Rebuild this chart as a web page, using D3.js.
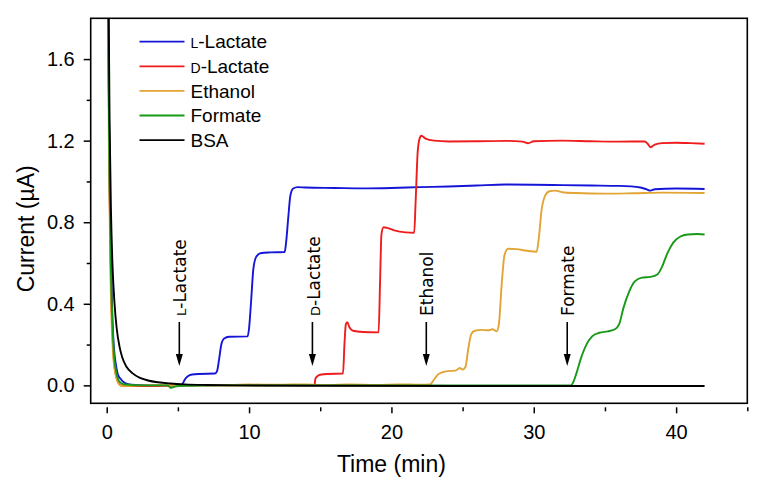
<!DOCTYPE html>
<html>
<head>
<meta charset="utf-8">
<script src="https://cdn.jsdelivr.net/npm/d3@7"></script>
<style>
  html, body { margin: 0; padding: 0; background: #fff; }
  svg { display: block; }
</style>
</head>
<body>
<svg id="chart" width="762" height="489"></svg>
<script>
// ---------- data: [time (min), current (µA)] ----------
const lLactate = [[0.02,3.0],[0.1,1.9],[0.2,1.05],[0.3,0.6],[0.4,0.33],[0.5,0.19],[0.65,0.1],[0.8,0.05],[1.0,0.03],[1.2,0.015],[1.5,0.006],[2,0.002],[3,0.0],[5.2,0.0],
  [5.35,0.01],[5.5,0.03],[5.7,0.045],[6.0,0.053],[6.5,0.056],[7.6,0.058],[7.75,0.07],[7.9,0.13],[8.05,0.2],[8.25,0.23],[8.6,0.238],[9.9,0.24],
  [10.0,0.28],[10.15,0.42],[10.3,0.57],[10.5,0.63],[10.8,0.648],[11.5,0.652],[12.5,0.654],[12.6,0.7],[12.75,0.82],[12.9,0.93],[13.1,0.965],[13.4,0.972],
  [14,0.97],[16,0.968],[18,0.966],[20,0.968],[22,0.972],[24,0.975],[26,0.98],[28,0.985],[30,0.984],[32,0.982],[34,0.98],[36,0.978],[37.5,0.97],[37.9,0.962],[38.2,0.955],[38.5,0.962],[40,0.965],[42,0.963]];
const dLactate = [[0.02,3.0],[0.1,1.85],[0.2,0.95],[0.3,0.5],[0.4,0.26],[0.5,0.13],[0.65,0.05],[0.8,0.015],[1.0,0.0],[1.3,-0.004],[2,-0.004],[4,-0.002],[6,0.0],[14.6,0.0],
  [14.65,0.03],[14.8,0.045],[15.0,0.052],[15.5,0.056],[16.6,0.058],[16.7,0.2],[16.8,0.3],[16.9,0.31],[17.05,0.285],[17.3,0.268],[18,0.262],[19.1,0.26],
  [19.2,0.5],[19.3,0.74],[19.45,0.775],[19.7,0.772],[20.2,0.76],[21,0.75],[21.6,0.748],[21.7,0.9],[21.85,1.15],[22.0,1.215],[22.1,1.224],[22.4,1.21],[23,1.2],
  [24,1.196],[26,1.197],[28,1.199],[29.2,1.195],[29.6,1.187],[30,1.197],[32,1.2],[34,1.197],[36,1.195],[37.8,1.196],[38.0,1.185],[38.2,1.168],[38.5,1.18],[39,1.188],[40,1.19],[41,1.188],[42,1.185]];
const ethanol = [[0.02,3.0],[0.08,2.0],[0.15,1.2],[0.25,0.6],[0.35,0.3],[0.45,0.15],[0.6,0.06],[0.75,0.02],[0.9,0.003],[1.1,-0.003],[1.5,-0.003],[2.5,0.0],
  [5,0.002],[8,0.0],[10,0.004],[12,0.003],[14,0.005],[15,0.001],[17,0.004],[19,0.002],[20.5,0.005],[22,0.003],[22.7,0.004],
  [23.0,0.03],[23.3,0.055],[23.6,0.065],[24.0,0.07],[24.5,0.072],[24.8,0.085],[25.0,0.078],[25.2,0.09],[25.4,0.18],[25.6,0.25],[25.85,0.268],[26.3,0.272],[26.8,0.27],[27.1,0.275],[27.4,0.265],
  [27.55,0.3],[27.75,0.5],[27.95,0.64],[28.2,0.67],[28.8,0.668],[29.5,0.66],[30.2,0.655],[30.35,0.72],[30.55,0.86],[30.8,0.93],[31.1,0.952],[31.5,0.955],
  [32,0.947],[33,0.943],[35,0.94],[37,0.942],[39,0.945],[41,0.944],[42,0.943]];
const formate = [[0.02,3.0],[0.1,1.8],[0.2,1.0],[0.3,0.55],[0.4,0.3],[0.5,0.16],[0.65,0.07],[0.8,0.03],[1.0,0.012],[1.3,0.004],[2,0.001],[3,0.0],[4.3,0.0],[4.5,-0.012],[4.7,-0.008],[5,-0.003],[6,-0.002],[8,0.0],[32.6,0.0],
  [32.8,0.02],[33.0,0.06],[33.3,0.13],[33.7,0.2],[34.1,0.24],[34.6,0.258],[35.2,0.265],[35.7,0.275],[36.0,0.3],[36.3,0.38],[36.7,0.46],[37.1,0.51],[37.6,0.528],[38.2,0.532],
  [38.7,0.545],[39.0,0.58],[39.4,0.65],[39.8,0.7],[40.3,0.73],[40.8,0.74],[41.5,0.742],[42,0.74]];
const bsa = [[0.05,3.0],[0.12,2.0],[0.2,1.3],[0.3,0.85],[0.4,0.6],[0.55,0.4],[0.7,0.28],[0.9,0.19],[1.1,0.135],[1.4,0.09],[1.8,0.06],[2.3,0.038],[2.9,0.024],[3.6,0.015],[4.5,0.009],[5.5,0.005],[7,0.002],[9,0.0],[15,-0.002],[25,-0.003],[35,-0.003],[42,-0.003]];

const seriesNames = ["L-Lactate", "D-Lactate", "Ethanol", "Formate", "BSA"];
const seriesSmallCap = ["L", "D", "", "", ""];
const seriesData = [lLactate, dLactate, ethanol, formate, bsa];
const seriesColors = ["#1515d8", "#ee1c1c", "#e2a535", "#179a17", "#000000"];

// annotation arrows: injection times
const injNames = ["L-Lactate", "D-Lactate", "Ethanol", "Formate"];
const injSmallCap = ["L", "D", "", ""];
const injTimes = [5.1, 14.45, 22.45, 32.35];

const xMajorTicks = [0, 10, 20, 30, 40];
const xMinorTicks = [5, 15, 25, 35, 45];
const yMajorTicks = [0.0, 0.4, 0.8, 1.2, 1.6];
const yMinorTicks = [0.2, 0.6, 1.0, 1.4];

// ---------- layout ----------
const svg = d3.select("#chart");
const L = 90.7, R = 747.3, T = 18.3, B = 403.3;
const x = d3.scaleLinear().domain([-1.125, 45]).range([L, R]);
const y = d3.scaleLinear().domain([-0.088, 1.8]).range([B, T]);

svg.append("defs").append("clipPath").attr("id", "clip")
  .append("rect").attr("x", L).attr("y", T).attr("width", R - L).attr("height", B - T);

// lines
const line = d3.line().x(d => x(d[0])).y(d => y(d[1])).curve(d3.curveMonotoneX);
const plot = svg.append("g").attr("clip-path", "url(#clip)");
seriesData.forEach((data, i) => {
  plot.append("path").datum(data)
    .attr("fill", "none")
    .attr("stroke", seriesColors[i])
    .attr("stroke-width", 1.9)
    .attr("stroke-linejoin", "round")
    .attr("d", line);
});

// frame
svg.append("rect").attr("x", L).attr("y", T).attr("width", R - L).attr("height", B - T)
  .attr("fill", "none").attr("stroke", "#000").attr("stroke-width", 1.6);

// y axis
const yAxis = svg.append("g").attr("transform", `translate(${L},0)`)
  .call(d3.axisLeft(y).tickValues(yMajorTicks).tickFormat(d3.format(".1f")).tickSize(7).tickPadding(9));
yAxis.select(".domain").remove();
svg.append("g").attr("transform", `translate(${L},0)`)
  .call(d3.axisLeft(y).tickValues(yMinorTicks).tickFormat("").tickSize(4))
  .select(".domain").remove();

// x axis (offset below frame)
const xAxisY = B + 4;
const xAxis = svg.append("g").attr("transform", `translate(0,${xAxisY})`)
  .call(d3.axisBottom(x).tickValues(xMajorTicks).tickFormat(d3.format("d")).tickSize(6).tickPadding(12));
xAxis.select(".domain").remove();
svg.append("g").attr("transform", `translate(0,${xAxisY})`)
  .call(d3.axisBottom(x).tickValues(xMinorTicks).tickFormat("").tickSize(4))
  .select(".domain").remove();

svg.selectAll(".tick line").attr("stroke", "#000").attr("stroke-width", 1.5);
svg.selectAll(".tick text").attr("font-family", "'Liberation Sans', Arial, sans-serif")
  .attr("font-size", 20).attr("fill", "#000");

// axis titles
svg.append("text").attr("x", (x(0) + x(40)) / 2).attr("y", 472)
  .attr("text-anchor", "middle").attr("font-family", "'Liberation Sans', Arial, sans-serif")
  .attr("font-size", 23).text("Time (min)");
svg.append("text").attr("transform", `translate(34,${(T + B) / 2 + 18}) rotate(-90)`)
  .attr("text-anchor", "middle").attr("font-family", "'Liberation Sans', Arial, sans-serif")
  .attr("font-size", 23).text("Current (µA)");

// legend
const legend = svg.append("g");
seriesNames.forEach((name, i) => {
  const ly = 41.7 + i * 24.6;
  legend.append("line").attr("x1", 139.5).attr("x2", 184.5).attr("y1", ly).attr("y2", ly)
    .attr("stroke", seriesColors[i]).attr("stroke-width", 1.8);
  const t = legend.append("text").attr("x", 190.5).attr("y", ly).attr("dy", "0.35em")
    .attr("font-family", "'Liberation Sans', Arial, sans-serif").attr("font-size", 19).attr("fill", "#000");
  if (seriesSmallCap[i]) {
    t.append("tspan").attr("font-size", 14).text(seriesSmallCap[i]);
    t.append("tspan").text(name.slice(1));
  } else {
    t.text(name);
  }
});

// injection annotations
const arrowTop = 322, arrowTip = 366;
injTimes.forEach((tm, i) => {
  const ax = x(tm);
  svg.append("line").attr("x1", ax).attr("x2", ax).attr("y1", arrowTop).attr("y2", arrowTip - 10)
    .attr("stroke", "#000").attr("stroke-width", 1.6);
  svg.append("path").attr("d", `M${ax - 3.5},${arrowTip - 12} L${ax + 3.5},${arrowTip - 12} L${ax},${arrowTip} Z`)
    .attr("fill", "#000");
  const t = svg.append("text").attr("transform", `translate(${ax + 1},316) rotate(-90)`)
    .attr("dy", "0.36em").attr("text-anchor", "start")
    .attr("font-family", "'DejaVu Sans', Verdana, sans-serif").attr("font-size", 17).attr("fill", "#000");
  if (injSmallCap[i]) {
    t.append("tspan").attr("font-size", 13).text(injSmallCap[i]);
    t.append("tspan").text(injNames[i].slice(1));
  } else {
    t.text(injNames[i]);
  }
});
</script>
</body>
</html>
